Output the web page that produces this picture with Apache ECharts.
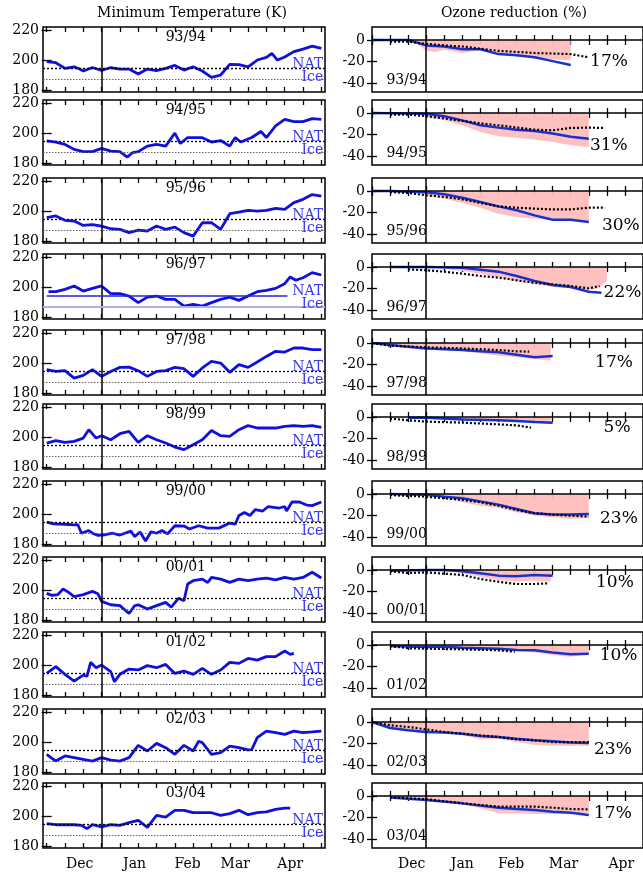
<!DOCTYPE html>
<html>
<head>
<meta charset="utf-8">
<script src="https://cdn.jsdelivr.net/npm/echarts@6/dist/echarts.min.js"></script>
<style>html,body{margin:0;padding:0;background:#fff}#main{width:643px;height:874px}</style>
</head>
<body>
<div id="main"></div>
<script>
// seasons, months, ticks
var seasons = ['93/94','94/95','95/96','96/97','97/98','98/99','99/00','00/01','01/02','02/03','03/04'];
var months = ['Dec','Jan','Feb','Mar','Apr'];
var xTicks = [0,10,20,30,40,50,60,70,80,90,100,110,120,130,140,150];
var tempTicks = [180,200,220];
var ozoneTicks = [-40,-20,0];
var natLevel = 194.5, iceLevel = 187;
var pctText = ['17%','31%','30%','22%','17%','5%','23%','10%','10%','23%','17%'];

// minimum temperature (K), [day since Dec 1, value]
var t9394 = [[0,199],[5,198.2],[10,194.4],[15,195.5],[18,194],[20,192.7],[25,195],[30,193],[35,195],[40,194],[45,194],[50,190.7],[55,194],[60,193],[65,194.4],[70,196.4],[75,193.3],[80,195.5],[85,192.7],[90,188.4],[95,190],[100,197.1],[105,197],[110,195.5],[115,200],[120,201.8],[123,204.5],[126,200],[130,202],[135,205.6],[140,207.3],[145,209.3],[150,207.8]];
var t9495 = [[0,194.7],[5,194],[10,192.4],[15,189.1],[20,187.6],[25,187.6],[30,189.8],[35,188],[40,187.6],[44,184],[47,187],[50,187.6],[55,191.3],[60,192.4],[65,191.3],[70,200],[73,193],[77,197],[85,196.9],[90,194],[95,195],[100,191.3],[103,197],[106,194],[112,197],[117,201],[120,197],[125,204.7],[130,209.1],[135,207.6],[140,207.6],[145,209.6],[150,209.1]];
var t9596 = [[0,195.6],[5,196.7],[10,193.8],[15,193.3],[20,190.4],[25,191],[30,190],[35,188.2],[40,187.8],[45,185.6],[50,187.3],[55,186.7],[60,190],[65,187.8],[70,189.3],[75,185.6],[80,183.3],[85,192.2],[90,192.2],[95,187.8],[100,198.2],[105,199.3],[110,200.4],[115,200],[120,200.4],[125,201.8],[130,201.1],[135,205.6],[140,207.8],[145,211],[150,210]];
var t9697 = [[1,196.9],[5,196.9],[10,198.4],[15,200.7],[20,197.3],[25,199.1],[30,200.7],[35,195.6],[40,195.6],[45,194],[50,189.6],[55,193.3],[60,194],[65,191.8],[70,191.8],[75,187.3],[80,188.4],[85,187.3],[90,189.6],[95,191.8],[100,193.3],[105,191.1],[110,194],[115,196.9],[120,197.8],[125,199.1],[130,202.2],[133,206.7],[136,204.5],[140,206.2],[145,209.6],[150,208]];
var t9798 = [[0,195.6],[5,194.4],[10,194.9],[15,190],[20,191.8],[25,195.6],[30,191.1],[35,194.4],[40,197.1],[45,197.3],[50,194.9],[55,191.1],[60,194.4],[65,194.9],[70,197.1],[75,196.2],[80,191.1],[85,196.7],[90,201.1],[95,200],[100,193.8],[105,198.9],[110,197.1],[115,200.7],[120,204.4],[125,207.8],[130,207.3],[135,210],[140,210],[145,208.9],[150,208.9]];
var t9899 = [[0,196],[5,197.6],[10,196.4],[15,197.1],[20,199.3],[23,204.9],[27,199.3],[30,200.9],[35,198.2],[40,202.2],[45,203.8],[50,196.4],[55,200.9],[60,198.2],[65,196],[70,193.3],[75,191.6],[80,194.9],[85,198.2],[90,204.4],[95,200.9],[100,200.4],[105,204.9],[110,207.6],[115,206],[120,206],[125,206],[130,207.1],[135,207.6],[140,207.1],[145,207.6],[150,206.4]];
var t9900 = [[0,194.6],[4,193.4],[10,193.2],[15,192.8],[17,193],[19,187.2],[23,189],[25,187.2],[28,185.8],[32,186.2],[36,187.2],[40,186],[46,188.6],[48,185],[51,188],[54,182],[57,188.2],[60,187.2],[63,189],[66,186.8],[70,192.2],[75,192],[78,190],[83,192.2],[88,190.6],[94,190.6],[100,194],[103,193.2],[105,199],[108,201],[111,199],[114,203],[118,202],[121,205],[127,204],[130,205],[131,202],[134,208],[138,208],[142,206],[145,205.6],[150,208]];
var t0001 = [[0,197.8],[3,196.4],[6,196.9],[9,200.7],[12,198.4],[15,195.6],[20,196.9],[25,199.1],[28,197.5],[30,192.4],[35,190.2],[40,189.6],[45,184.4],[48,189.5],[50,190.2],[55,187.3],[60,189.6],[65,191.8],[68,188.6],[72,194.5],[75,192.9],[77,204],[80,206.2],[85,207.3],[88,205],[90,208.4],[95,207.3],[100,205.1],[105,207.3],[110,206.2],[115,207.3],[120,208],[125,206.7],[130,208.4],[135,207.3],[140,208.4],[145,211.8],[150,208]];
var t0102 = [[0,194.4],[5,198.9],[10,193.8],[15,189.3],[20,193.3],[22,192.5],[24,201.8],[27,198.2],[30,200],[35,195.6],[37,188.9],[40,193.8],[45,197.3],[50,196.7],[55,199.6],[60,198.2],[65,200.4],[70,194.4],[75,196],[80,193.8],[85,197.8],[90,193.8],[95,196.7],[100,201.8],[105,201.1],[110,204.4],[115,203.3],[120,205.6],[125,205.6],[130,209.3],[133,207.1],[135,207.8]];
var t0203 = [[0,191.8],[5,187.3],[10,190.7],[15,189.6],[20,188.4],[25,187.3],[30,189.6],[35,188],[40,187.3],[45,189.6],[50,197.8],[55,194],[60,199.1],[65,196.2],[70,191.8],[75,197.8],[80,194],[83,200.5],[85,199.6],[90,191.8],[95,192.9],[100,197.3],[105,196.2],[110,194.7],[112,195],[115,202.9],[120,207.3],[125,206.2],[130,205.1],[135,207.3],[140,206.2],[145,206.7],[150,207.3]];
var t0304 = [[0,194.9],[5,194.2],[10,194.2],[15,194.2],[19,193.8],[22,191.6],[25,194.2],[30,192.7],[35,194.2],[40,193.8],[45,195.6],[50,197.1],[55,192.5],[60,200.4],[65,199.3],[70,203.8],[75,203.8],[80,202.2],[85,202.2],[90,202.2],[95,200.4],[100,201.6],[105,203.8],[110,200.9],[115,202.2],[120,202.7],[125,204.4],[130,205.3],[133,205.3]];
var temps = [t9394,t9495,t9596,t9697,t9798,t9899,t9900,t0001,t0102,t0203,t0304];

// ozone reduction (%): blue line, dotted line, shaded range
var b9394 = [[0,0],[20,0],[30,-5],[40,-6],[50,-8.5],[60,-8.5],[70,-13],[80,-14],[90,-16],[100,-19.5],[110,-23]];
var d9394 = [[10,-1.5],[20,-1.5],[30,-3.5],[40,-5],[50,-6],[60,-8],[70,-10],[80,-11],[90,-12],[100,-12.5],[110,-13],[120,-16]];
var p9394 = [[24,0],[26,-5],[30,-10],[35,-11],[40,-9],[50,-12],[60,-9],[70,-12],[80,-14],[90,-16],[100,-18],[110,-18.5],[110,0]];
var b9495 = [[0,0],[30,-0.6],[40,-3],[50,-6.8],[60,-11.4],[70,-13.5],[80,-15.4],[90,-16.6],[100,-19],[110,-22],[120,-23.7]];
var d9495 = [[10,-1.5],[20,-1.5],[30,-2.8],[50,-7.4],[70,-11.4],[90,-15.4],[100,-16],[110,-13.8],[120,-13.5],[129,-13.8]];
var p9495 = [[26,0],[27,-2],[30,-3.7],[40,-6.8],[50,-11.4],[60,-17.5],[70,-21.5],[80,-22.8],[90,-24.6],[100,-26.8],[110,-29.8],[120,-31.4],[120,0]];
var b9596 = [[0,0],[10,0],[30,-1.2],[40,-3],[50,-6.2],[60,-10.2],[70,-14.2],[80,-17.8],[90,-22.5],[100,-26.5],[110,-26.5],[120,-28.6]];
var d9596 = [[10,-1],[20,-1.8],[30,-4],[40,-5.5],[50,-7.7],[60,-11],[70,-14.2],[80,-15.4],[90,-16.3],[100,-17],[110,-17],[120,-15.4],[129,-15.4]];
var p9596 = [[20,0],[21,-1],[30,-4],[40,-7],[50,-11],[60,-15.4],[70,-21],[80,-24],[90,-25.5],[100,-27],[110,-27],[120,-27.7],[120,0]];
var b9697 = [[10,0],[30,0],[50,-0.6],[70,-4.3],[80,-8.3],[90,-12.9],[100,-16.6],[110,-18.5],[120,-22.8],[127,-23.7]];
var d9697 = [[20,-2.2],[30,-3],[40,-4.3],[50,-6.2],[60,-8.3],[70,-9.8],[80,-12.3],[90,-14.5],[100,-16],[110,-17.5],[120,-19.7],[126,-17.5]];
var p9697 = [[30,0],[31,-1],[50,-3.7],[60,-6.2],[70,-9.8],[80,-13],[90,-16],[100,-18.5],[110,-19.7],[120,-20.6],[125,-20],[130,-13],[130,0]];
var b9798 = [[0,0],[10,-1.8],[30,-5],[50,-6.5],[60,-7.7],[70,-8.6],[80,-10.8],[90,-13.2],[100,-12]];
var d9798 = [[0,0],[10,-2.5],[30,-4],[50,-5],[70,-6.5],[80,-7.7],[87,-8]];
var p9798 = [[0,0],[10,-2],[30,-4],[50,-7.7],[70,-11.7],[80,-13.2],[90,-14.8],[99,-16.3],[99,0]];
var b9899 = [[20,-0.6],[30,-0.6],[50,-2.2],[70,-3],[80,-3.7],[90,-4.6],[100,-5.2]];
var d9899 = [[10,-1.5],[20,-3],[30,-4.3],[50,-5.2],[70,-6.8],[80,-7.7],[88,-9.8]];
var p9899 = [[30,0],[30,-1],[50,-3],[70,-3.7],[90,-4.6],[99,-5.2],[99,0]];
var b9900 = [[10,0],[30,-0.6],[40,-2.5],[50,-4],[60,-6.8],[70,-9.8],[80,-13.8],[90,-17.8],[100,-19],[110,-19],[120,-18.5]];
var d9900 = [[10,-1],[30,-2.5],[50,-5.5],[60,-7.7],[70,-10.8],[80,-14.8],[90,-17.8],[100,-19],[110,-20],[120,-20.9]];
var p9900 = [[30,0],[31,-1],[40,-3],[50,-7.7],[60,-10.8],[70,-12.9],[80,-16.9],[90,-20],[100,-21.5],[110,-23],[120,-22],[120,0]];
var b0001 = [[10,-0.6],[30,0],[40,0],[50,-1.2],[60,-3],[70,-5.2],[80,-5.8],[90,-4.6],[100,-5.2]];
var d0001 = [[10,-1.2],[20,-2.8],[30,-2.2],[50,-4.6],[60,-8.3],[70,-10.8],[80,-12.9],[90,-12.9],[98,-12.3]];
var p0001 = [[40,0],[50,-3],[60,-6.2],[70,-9.2],[80,-10.5],[90,-9.8],[99,-10.8],[99,0]];
var b0102 = [[10,-1],[30,-1.8],[40,-1.5],[50,-2.5],[70,-3.4],[80,-4.6],[90,-4.9],[100,-7],[110,-8.6],[120,-8]];
var d0102 = [[10,-1],[20,-3],[30,-3.4],[50,-4],[70,-4.9],[79,-6.2]];
var p0102 = [[10,0],[10,-1],[30,-3],[50,-4],[70,-4],[80,-5.5],[90,-7],[100,-9.2],[110,-10.8],[120,-8.6],[120,0]];
var b0203 = [[0,0],[10,-5.5],[20,-7.7],[30,-9.2],[40,-9.8],[50,-10.8],[60,-12.9],[70,-13.8],[80,-15.4],[90,-16.9],[100,-17.8],[110,-19],[120,-19.4]];
var d0203 = [[0,0],[10,-3],[20,-4.6],[30,-6.8],[40,-9.2],[50,-10.8],[60,-12.3],[70,-13.8],[80,-16],[90,-16.9],[100,-18.5],[110,-18.5],[120,-18.5]];
var p0203 = [[0,0],[10,-6.2],[20,-8.6],[30,-10.8],[40,-9.8],[50,-12.3],[60,-16],[70,-15.4],[80,-18.5],[90,-20.9],[100,-22],[110,-22],[120,-22],[120,0]];
var b0304 = [[10,-1.5],[30,-3.7],[50,-6.8],[70,-10.8],[80,-12],[90,-12.9],[100,-14.5],[110,-15.4],[120,-17.5]];
var d0304 = [[10,-1.2],[30,-3],[50,-6.8],[70,-9.8],[80,-9.8],[90,-9.8],[100,-10.8],[110,-12],[120,-12.3]];
var p0304 = [[10,0],[10,-1],[30,-3.7],[50,-7.7],[60,-11.4],[70,-16],[80,-16],[90,-16.6],[100,-16.6],[110,-16],[120,-15.4],[120,0]];
var blueLines = [b9394,b9495,b9596,b9697,b9798,b9899,b9900,b0001,b0102,b0203,b0304];
var dotLines = [d9394,d9495,d9596,d9697,d9798,d9899,d9900,d0001,d0102,d0203,d0304];
var shades = [p9394,p9495,p9596,p9697,p9798,p9899,p9900,p0001,p0102,p0203,p0304];

// layout
var FONT = 'DejaVu Serif';
var tops = [27,100,178,254,330,404,481,557,632,709,783];
var H = 65;
var leftMonthAt = [18,48,77,103,133];
var rightMonthAt = [22,50,77,106,138];
var pctAt = [[120.7,-20],[120.6,-29.8],[127.3,-31.7],[128.2,-23.7],[123.5,-17.8],[128.2,-10],[126.2,-23],[124,-11.4],[126,-10],[122.9,-25],[122.9,-16.6]];

window.onload = function () {
	var myChart = echarts.init(document.getElementById('main'));

	function xAx(g, pos, min, max, labels) {
		return {
			gridIndex: g, type: 'value', position: pos, min: min, max: max,
			axisLine: {show: false}, splitLine: {show: false},
			axisTick: {show: true, inside: true, length: 5, customValues: xTicks, lineStyle: {color: '#000', width: 1.3}},
			axisLabel: labels ? {
				show: true, customValues: labels, margin: 9,
				color: '#000', fontFamily: FONT, fontSize: 14,
				formatter: function (v) { return months[labels.indexOf(v)] || ''; }
			} : {show: false}
		};
	}
	function yAx(g, pos, min, max, ticks, withLabels, margin) {
		return {
			gridIndex: g, type: 'value', position: pos, min: min, max: max,
			axisLine: {show: false}, splitLine: {show: false},
			axisTick: {show: true, inside: true, length: 5, customValues: ticks, lineStyle: {color: '#000', width: 1.3}},
			axisLabel: withLabels ? {show: true, customValues: ticks, margin: margin, color: '#000', fontFamily: FONT, fontSize: 14} : {show: false}
		};
	}
	function txt(s, size, color) {
		return {show: true, formatter: s, fontFamily: FONT, fontSize: size, color: color};
	}

	var grids = [], xAxes = [], yAxes = [], series = [];
	var black = {color: '#000', width: 1.5, type: 'solid'};

	for (var i = 0; i < seasons.length; i++) {
		var last = (i === seasons.length - 1);

		// left: minimum temperature
		var g = grids.length;
		grids.push({left: 43, top: tops[i], width: 282, height: H, show: true, borderColor: '#000', borderWidth: 1.5});
		xAxes.push(xAx(g, 'bottom', -2, 152, last ? leftMonthAt : null));
		xAxes.push(xAx(g, 'top', -2, 152, null));
		yAxes.push(yAx(g, 'left', 178.7, 222, tempTicks, true, 4));
		yAxes.push(yAx(g, 'right', 178.7, 222, tempTicks, false, 0));

		var lines = [{xAxis: 30, lineStyle: black}];
		if (i === 3) {
			lines.push([{coord: [0, natLevel], lineStyle: {color: '#2424d6', width: 1.6, type: 'solid'}}, {coord: [131.5, natLevel]}]);
			lines.push({yAxis: iceLevel, lineStyle: {color: '#aab0f2', width: 2, type: 'solid'}});
		} else {
			lines.push({yAxis: natLevel, lineStyle: {color: '#000', width: 1.3, type: [2, 2]}});
			lines.push({yAxis: iceLevel, lineStyle: {color: '#555', width: 0.9, type: [1.5, 1.5]}});
		}
		series.push({
			type: 'line', xAxisIndex: 2 * g, yAxisIndex: 2 * g, data: temps[i],
			symbol: 'none', lineStyle: {color: '#1010dc', width: 2.8}, z: 3,
			markLine: {silent: true, symbol: ['none', 'none'], label: {show: false}, data: lines},
			markPoint: {
				silent: true, symbolSize: 0,
				data: [
					{coord: [76, 215.2], label: Object.assign(txt(seasons[i], 14, '#000'), {position: 'inside'})},
					{coord: [151, 197.2], label: Object.assign(txt('NAT', 14, '#3838ee'), {position: 'left', distance: 0})},
					{coord: [151, 188.2], label: Object.assign(txt('Ice', 14, '#3838ee'), {position: 'left', distance: 0})}
				]
			}
		});

		// right: ozone reduction
		g = grids.length;
		grids.push({left: 372, top: tops[i], width: 275, height: H, show: true, borderColor: '#000', borderWidth: 1.5});
		xAxes.push(xAx(g, 'bottom', 0, 150, last ? rightMonthAt : null));
		xAxes.push(xAx(g, 'top', 0, 150, null));
		yAxes.push(yAx(g, 'left', -48, 12, ozoneTicks, true, 7));
		yAxes.push(yAx(g, 'right', -48, 12, ozoneTicks, false, 0));

		series.push({
			type: 'line', xAxisIndex: 2 * g, yAxisIndex: 2 * g, data: shades[i],
			symbol: 'none', lineStyle: {width: 0, color: '#ffbcbc'},
			areaStyle: {color: '#ffbdbd', opacity: 0.95}, z: 1
		});
		series.push({
			type: 'line', xAxisIndex: 2 * g, yAxisIndex: 2 * g, data: blueLines[i],
			symbol: 'none', lineStyle: {color: '#1632cc', width: 2.5}, z: 3,
			markLine: {silent: true, symbol: ['none', 'none'], label: {show: false},
				data: [{xAxis: 30, lineStyle: black}, {yAxis: 0, lineStyle: black}]},
			markPoint: {
				silent: true, symbolSize: 0,
				data: [
					{coord: [8, -37], label: Object.assign(txt(seasons[i], 14, '#000'), {position: 'right', distance: 0})},
					{coord: pctAt[i], label: Object.assign(txt(pctText[i], 17, '#000'), {position: 'right', distance: 0})}
				]
			}
		});
		series.push({
			type: 'line', xAxisIndex: 2 * g, yAxisIndex: 2 * g, data: dotLines[i],
			symbol: 'none', lineStyle: {color: '#000', width: 2.2, type: [2, 2]}, z: 4
		});
	}

	var option = {
		animation: false,
		backgroundColor: '#fff',
		grid: grids,
		xAxis: xAxes,
		yAxis: yAxes,
		series: series,
		graphic: [
			{type: 'text', x: 192, y: 13, style: {text: 'Minimum Temperature (K)', fontFamily: FONT, fontSize: 14, fill: '#000', textAlign: 'center', textVerticalAlign: 'middle'}},
			{type: 'text', x: 514, y: 13, style: {text: 'Ozone reduction (%)', fontFamily: FONT, fontSize: 14, fill: '#000', textAlign: 'center', textVerticalAlign: 'middle'}}
		]
	};
	myChart.setOption(option);
};
</script>
</body>
</html>
